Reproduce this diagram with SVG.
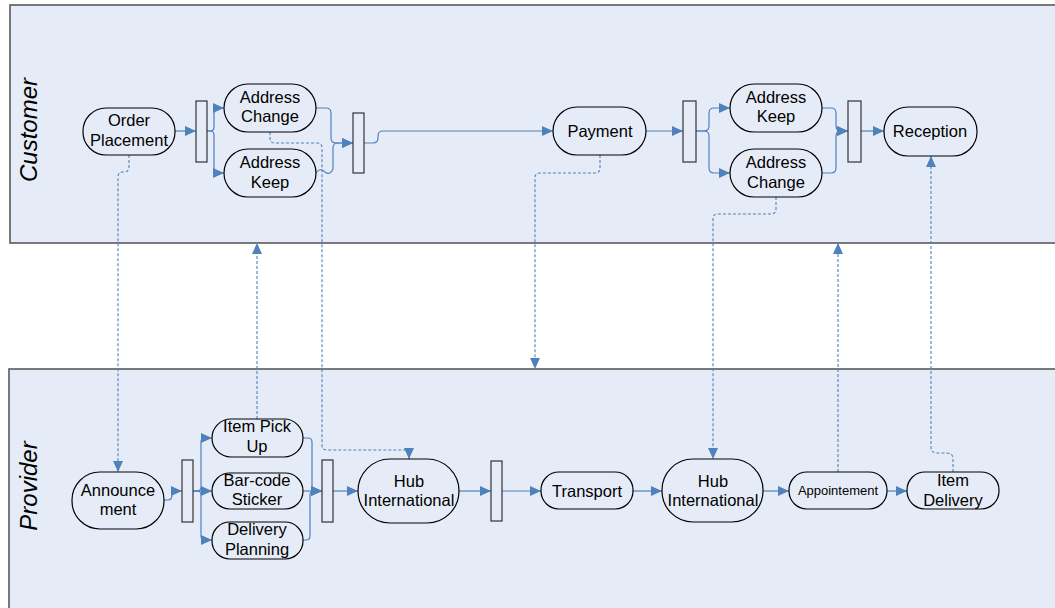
<svg xmlns="http://www.w3.org/2000/svg" width="1055" height="608" viewBox="0 0 1055 608">
<style>
.lane{fill:#E6ECF7;stroke:#5A5A5A;stroke-width:1.6}
.lbl{font-family:"Liberation Sans",Arial,sans-serif;font-style:italic;font-size:24px;fill:#000}
.node{fill:#E6ECF7;stroke:#000;stroke-width:1.2}
.bar{fill:#E6ECF7;stroke:#333;stroke-width:1.2}
.t{font-family:"Liberation Sans",Arial,sans-serif;font-size:16.5px;fill:#000;text-anchor:middle}
.s{font-size:13px}
.c{fill:none;stroke:#4F81BD;stroke-width:1.2}
.d{fill:none;stroke:#4F81BD;stroke-width:1.1;stroke-dasharray:3,2}
</style>
<defs>
<marker id="a" markerUnits="userSpaceOnUse" markerWidth="12" markerHeight="10" refX="11" refY="5" orient="auto" viewBox="0 0 12 10">
<path d="M0,0 L11,5 L0,10 z" fill="#4F81BD"/>
</marker>
</defs>
<rect class="lane" x="10" y="5" width="1060" height="238"/>
<rect class="lane" x="9" y="369" width="1060" height="250"/>
<text class="lbl" transform="translate(37,130) rotate(-90)" text-anchor="middle">Customer</text>
<text class="lbl" transform="translate(37,486) rotate(-90)" text-anchor="middle">Provider</text>

<g id="connectors">
<path class="c" marker-end="url(#a)" d="M175,131 H196"/>
<path class="c" marker-end="url(#a)" d="M207,131 H210 Q214,131 214,127 V112 Q214,108 218,108 H224"/>
<path class="c" marker-end="url(#a)" d="M207,131 H210 Q214,131 214,135 V169 Q214,173 218,173 H224"/>
<path class="c" marker-end="url(#a)" d="M316,108 H326 Q331,108 331,113 V138 Q331,143 336,143 H353"/>
<path class="c" marker-end="url(#a)" d="M316,173 Q320,167 325,172 Q330,176 333,169 V148 Q333,143 338,143 H353"/>
<path class="c" marker-end="url(#a)" d="M364,143 H373 Q378,143 378,138 V136 Q378,131 383,131 H553"/>
<path class="c" marker-end="url(#a)" d="M646,131 H683"/>
<path class="c" marker-end="url(#a)" d="M696,131 H704 Q709,131 709,126 V113 Q709,108 714,108 H730"/>
<path class="c" marker-end="url(#a)" d="M696,131 H704 Q709,131 709,136 V168 Q709,173 714,173 H730"/>
<path class="c" marker-end="url(#a)" d="M822,108 H831 Q836,108 836,113 V126 Q836,131 841,131 H848"/>
<path class="c" marker-end="url(#a)" d="M822,173 H831 Q836,173 836,168 V136 Q836,131 841,131 H848"/>
<path class="c" marker-end="url(#a)" d="M861,131 H884"/>

<path class="c" marker-end="url(#a)" d="M164,500 H168 Q172,500 172,495 Q172,491 176,491 H182"/>
<path class="c" marker-end="url(#a)" d="M193,491 H197 Q201,491 201,487 V442 Q201,438 205,438 H212"/>
<path class="c" marker-end="url(#a)" d="M193,491 H212"/>
<path class="c" marker-end="url(#a)" d="M193,491 H197 Q201,491 201,495 V536 Q201,540 205,540 H212"/>
<path class="c" marker-end="url(#a)" d="M303,438 H308 Q312,438 312,442 V487 Q312,491 316,491 H322"/>
<path class="c" marker-end="url(#a)" d="M303,491 H322"/>
<path class="c" marker-end="url(#a)" d="M303,540 H306 Q310,540 310,536 V495 Q310,491 314,491 H322"/>
<path class="c" marker-end="url(#a)" d="M333,491 H358"/>
<path class="c" marker-end="url(#a)" d="M459,491 H491"/>
<path class="c" marker-end="url(#a)" d="M502,491 H541"/>
<path class="c" marker-end="url(#a)" d="M633,491 H662"/>
<path class="c" marker-end="url(#a)" d="M763,491 H789"/>
<path class="c" marker-end="url(#a)" d="M887,491 H907"/>

<path class="d" marker-end="url(#a)" d="M129,155 V167 Q129,172 124,172 H123 Q118,172 118,177 V472"/>
<path class="d" marker-end="url(#a)" d="M257,419 V243"/>
<path class="d" marker-end="url(#a)" d="M270,132 V138 Q270,143 275,143 H317 Q322,143 322,148 V445 Q322,450 327,450 H404 Q409,450 409,455 V459"/>
<path class="d" marker-end="url(#a)" d="M600,155 V168 Q600,173 595,173 H540 Q535,173 535,178 V369"/>
<path class="d" marker-end="url(#a)" d="M776,197 V209 Q776,214 771,214 H718 Q713,214 713,219 V459"/>
<path class="d" marker-end="url(#a)" d="M838,472 V243"/>
<path class="d" marker-end="url(#a)" d="M953,472 V459 Q953,453 947,453 H937 Q931,453 931,447 V156"/>
</g>

<g id="order-placement"><rect class="node" x="83" y="108" width="92" height="47" rx="23"/><text class="t" x="129" y="126">Order</text><text class="t" x="129" y="146">Placement</text></g>
<g id="fork1"><rect class="bar" x="196" y="101" width="11" height="61"/></g>
<g id="address-change-1"><rect class="node" x="224" y="84" width="92" height="48" rx="24"/><text class="t" x="270" y="103">Address</text><text class="t" x="270" y="122">Change</text></g>
<g id="address-keep-1"><rect class="node" x="224" y="149" width="92" height="48" rx="24"/><text class="t" x="270" y="168">Address</text><text class="t" x="270" y="188">Keep</text></g>
<g id="join1"><rect class="bar" x="353" y="113" width="11" height="60"/></g>
<g id="payment"><rect class="node" x="553" y="107" width="93" height="48" rx="24"/><text class="t" x="600" y="137">Payment</text></g>
<g id="fork2"><rect class="bar" x="683" y="101" width="13" height="61"/></g>
<g id="address-keep-2"><rect class="node" x="730" y="84" width="92" height="48" rx="24"/><text class="t" x="776" y="103">Address</text><text class="t" x="776" y="122">Keep</text></g>
<g id="address-change-2"><rect class="node" x="730" y="149" width="92" height="48" rx="24"/><text class="t" x="776" y="168">Address</text><text class="t" x="776" y="188">Change</text></g>
<g id="join2"><rect class="bar" x="848" y="101" width="13" height="61"/></g>
<g id="reception"><rect class="node" x="884" y="107" width="93" height="49" rx="24"/><text class="t" x="930" y="137">Reception</text></g>

<g id="announcement"><rect class="node" x="72" y="472" width="92" height="57" rx="28"/><text class="t" x="118" y="496">Announce</text><text class="t" x="118" y="515">ment</text></g>
<g id="fork3"><rect class="bar" x="182" y="460" width="11" height="62"/></g>
<g id="item-pick-up"><rect class="node" x="212" y="419" width="91" height="38" rx="19"/><text class="t" x="257" y="432">Item Pick</text><text class="t" x="257" y="452">Up</text></g>
<g id="bar-code-sticker"><rect class="node" x="212" y="473" width="91" height="36" rx="18"/><text class="t" x="257" y="486">Bar-code</text><text class="t" x="257" y="505">Sticker</text></g>
<g id="delivery-planning"><rect class="node" x="212" y="522" width="91" height="37" rx="18"/><text class="t" x="257" y="535">Delivery</text><text class="t" x="257" y="555">Planning</text></g>
<g id="join3"><rect class="bar" x="322" y="460" width="11" height="62"/></g>
<g id="hub-international-1"><rect class="node" x="358" y="459" width="101" height="64" rx="32"/><text class="t" x="409" y="487">Hub</text><text class="t" x="409" y="506">International</text></g>
<g id="bar7"><rect class="bar" x="491" y="461" width="11" height="60"/></g>
<g id="transport"><rect class="node" x="541" y="472" width="92" height="37" rx="18"/><text class="t" x="587" y="497">Transport</text></g>
<g id="hub-international-2"><rect class="node" x="662" y="459" width="101" height="63" rx="31"/><text class="t" x="713" y="487">Hub</text><text class="t" x="713" y="506">International</text></g>
<g id="appointement"><rect class="node" x="789" y="472" width="98" height="37" rx="18"/><text class="t s" x="838" y="495">Appointement</text></g>
<g id="item-delivery"><rect class="node" x="907" y="472" width="92" height="37" rx="18"/><text class="t" x="953" y="486">Item</text><text class="t" x="953" y="506">Delivery</text></g>
</svg>
